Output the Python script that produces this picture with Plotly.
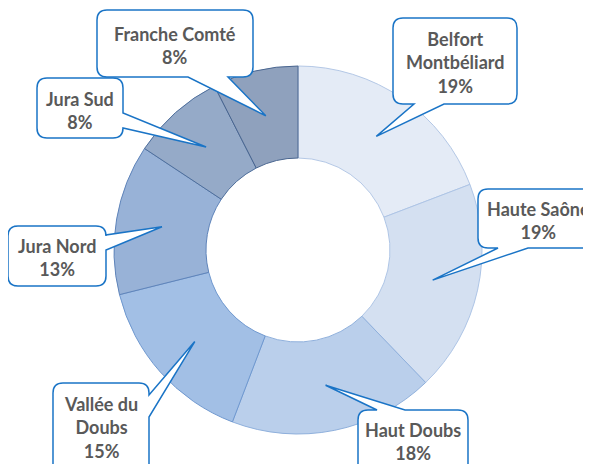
import math
import plotly.graph_objects as go

# ---- data ----
regions = ["Belfort Montbéliard", "Haute Saône", "Haut Doubs", "Vallée du Doubs",
           "Jura Nord", "Jura Sud", "Franche Comté"]
label_lines = ["Belfort<br>Montbéliard", "Haute Saône", "Haut Doubs", "Vallée du<br>Doubs",
               "Jura Nord", "Jura Sud", "Franche Comté"]
shares = [19.2, 18.6, 18.0, 15.3, 13.2, 8.2, 7.5]

# ---- styling / layout constants ----
W, H = 591, 464
OFF = 8  # page body margin offset
CX, CY, R_OUT, HOLE = 298, 250, 184, 0.5
slice_colors = ["#e4ebf6", "#d4e0f1", "#bacfeb", "#a2bfe5", "#98b2d7", "#95aac8", "#8fa1bd"]
slice_lines = ["#b4c8e6", "#aec5e6", "#8fb0dc", "#6f98cf", "#5f84ba", "#4f6f9c", "#4a6690"]
CALLOUT = "#1a74c6"
TEXT = "#595959"

# callout boxes: (x0, y0, x1, y1, side, base0, base1, text_cx, text_cy)
boxes = [
    (393, 18, 517, 104, "bottom", 414, 444, 455, 63),
    (478, 189, 605, 248, "bottom", 498, 528, 538, 220),
    (358, 410, 468, 480, "top", 377, 405, 413, 441),
    (53, 383, 149, 480, "right", 395, 417, 101, 427),
    (8, 226, 106, 286, "right", 235, 250, 57, 257),
    (37, 78, 123, 138, "right", 113, 128, 80, 110),
    (97, 10, 253, 77, "bottom", 188, 228, 175, 45),
]


def px(x, y):
    return (x - OFF) / W, 1 - (y - OFF) / H


def fmt(x, y):
    a, b = px(x, y)
    return f"{a:.5f},{b:.5f}"


def callout_path(x0, y0, x1, y1, side, b0, b1, tip, r=10):
    p = [f"M{fmt(x0 + r, y0)}"]
    if side == "top":
        p += [f"L{fmt(b0, y0)}", f"L{fmt(*tip)}", f"L{fmt(b1, y0)}"]
    p += [f"L{fmt(x1 - r, y0)}", f"Q{fmt(x1, y0)} {fmt(x1, y0 + r)}"]
    if side == "right":
        p += [f"L{fmt(x1, b0)}", f"L{fmt(*tip)}", f"L{fmt(x1, b1)}"]
    p += [f"L{fmt(x1, y1 - r)}", f"Q{fmt(x1, y1)} {fmt(x1 - r, y1)}"]
    if side == "bottom":
        p += [f"L{fmt(b1, y1)}", f"L{fmt(*tip)}", f"L{fmt(b0, y1)}"]
    p += [f"L{fmt(x0 + r, y1)}", f"Q{fmt(x0, y1)} {fmt(x0, y1 - r)}"]
    if side == "left":
        p += [f"L{fmt(x0, b1)}", f"L{fmt(*tip)}", f"L{fmt(x0, b0)}"]
    p += [f"L{fmt(x0, y0 + r)}", f"Q{fmt(x0, y0)} {fmt(x0 + r, y0)}", "Z"]
    return " ".join(p)


dx0, dy1 = px(CX - R_OUT, CY + R_OUT)
dx1, dy0 = px(CX + R_OUT, CY - R_OUT)
fig = go.Figure(go.Pie(
    labels=regions, values=shares, hole=HOLE, sort=False, direction="clockwise",
    rotation=0, textinfo="none",
    marker=dict(colors=slice_colors, line=dict(color=slice_lines, width=1)),
    domain=dict(x=[dx0, dx1], y=[dy1, dy0]),
    showlegend=False,
))

total = sum(shares)
cum = 0
shapes, annotations = [], []
r_mid = R_OUT * (1 + HOLE) / 2
for v, lab, b in zip(shares, label_lines, boxes):
    mid = (cum + v / 2) / total * 2 * math.pi
    cum += v
    tip = (CX + r_mid * math.sin(mid), CY - r_mid * math.cos(mid))
    x0, y0, x1, y1, side, b0, b1, tx, ty = b
    shapes.append(dict(type="path", xref="paper", yref="paper",
                       path=callout_path(x0, y0, x1, y1, side, b0, b1, tip),
                       fillcolor="white", line=dict(color=CALLOUT, width=1.5), layer="above"))
    ax, ay = px(tx, ty)
    annotations.append(dict(x=ax, y=ay, xref="paper", yref="paper", showarrow=False,
                            text=f"<b>{lab}<br>{round(v / total * 100)}%</b>",
                            font=dict(family="Lato, Open Sans, sans-serif", size=18, color=TEXT),
                            xanchor="center", yanchor="middle", align="center"))

fig.update_layout(width=W, height=H, autosize=False,
                  margin=dict(l=0, r=0, t=0, b=0),
                  paper_bgcolor="white", plot_bgcolor="white",
                  shapes=shapes, annotations=annotations)
fig.write_html("out.html")
